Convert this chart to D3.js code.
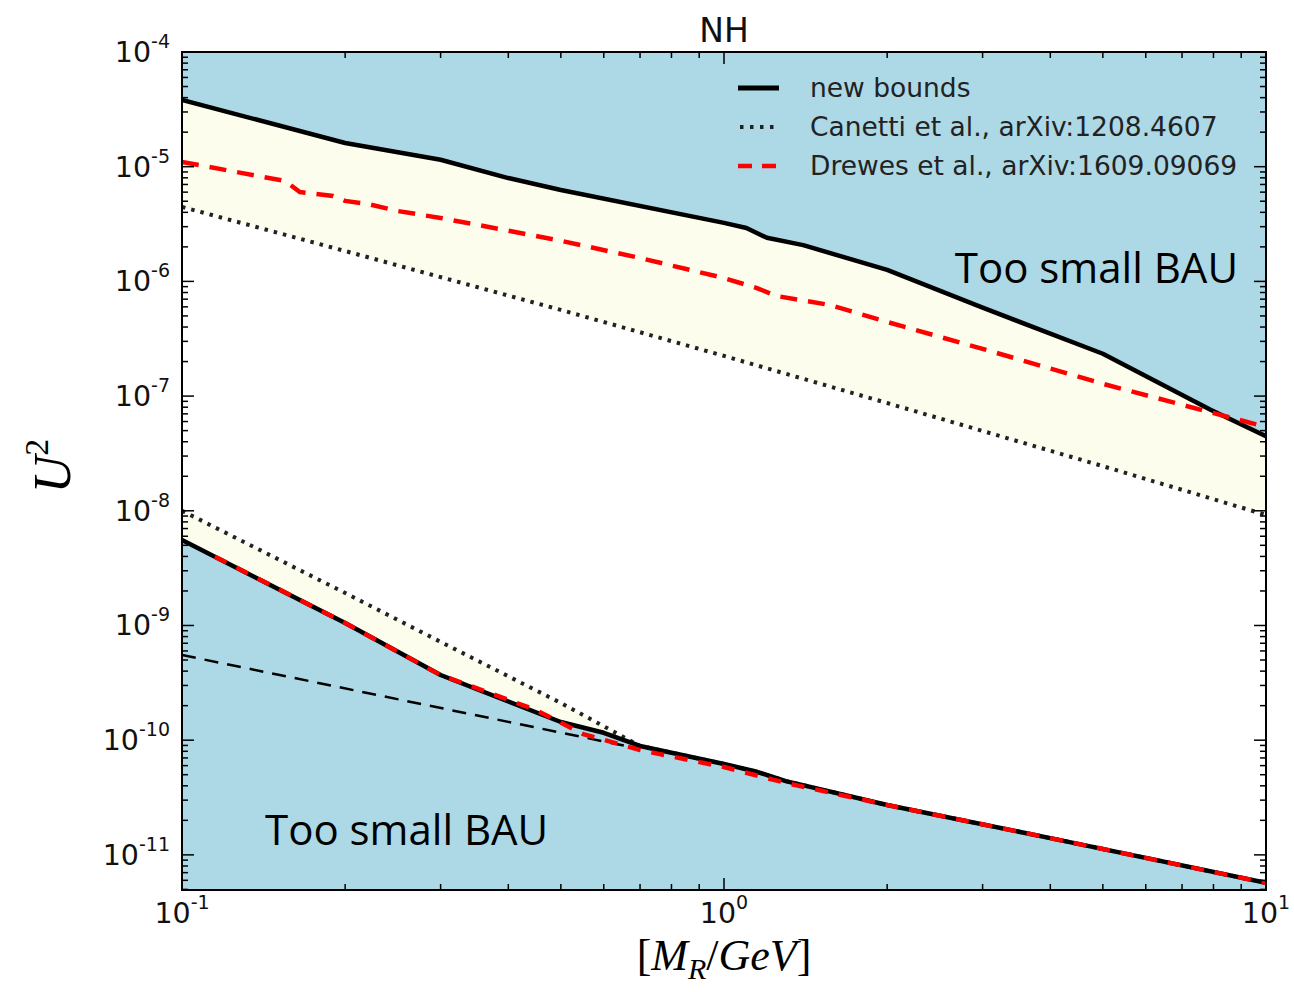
<!DOCTYPE html>
<html><head><meta charset="utf-8">
<script src="https://cdn.jsdelivr.net/npm/d3@7"></script>
<style>
html,body{margin:0;padding:0;background:#fff;}
svg{display:block;}
</style>
</head><body>
<svg id="chart" width="1294" height="992"></svg>
<script>
// ---------- data ----------
const massUpperNew = [0.1, 0.2, 0.3, 0.4, 0.5, 1.0, 1.1, 1.2, 1.4, 2, 3, 5, 7.9, 10];
const u2UpperNew   = [3.82e-5, 1.61e-5, 1.15e-5, 7.96e-6, 6.27e-6, 3.24e-6, 2.92e-6, 2.4e-6, 2.07e-6, 1.26e-6, 5.9e-7, 2.34e-7, 7.6e-8, 4.46e-8];

const massLowerNew = [0.1, 0.2, 0.3, 0.5, 0.6, 0.7, 1.0, 1.15, 1.3, 2, 4, 10];
const u2LowerNew   = [5.56e-9, 1.05e-9, 3.7e-10, 1.44e-10, 1.16e-10, 8.9e-11, 6.2e-11, 5.3e-11, 4.4e-11, 2.72e-11, 1.4e-11, 5.7e-12];

const massUpperCanetti = [0.1, 0.2, 0.5, 1, 2, 5, 10];
const u2UpperCanetti   = [4.46e-6, 1.84e-6, 5.64e-7, 2.24e-7, 8.7e-8, 2.45e-8, 9.2e-9];

const massLowerCanetti = [0.1, 0.2, 0.3, 0.5, 0.7, 1.0, 1.15, 1.3, 2, 4, 10];
const u2LowerCanetti   = [1.0e-8, 1.92e-9, 7.2e-10, 2.11e-10, 8.9e-11, 6.2e-11, 5.3e-11, 4.4e-11, 2.72e-11, 1.4e-11, 5.7e-12];

const massUpperDrewes = [0.1, 0.155, 0.165, 0.19, 0.2, 0.22, 0.25, 0.3, 0.4, 0.5, 0.7, 1.0, 1.15, 1.25, 1.57, 2, 3, 5, 10];
const u2UpperDrewes   = [1.10e-5, 7.5e-6, 6.01e-6, 5.55e-6, 5.03e-6, 4.73e-6, 4.11e-6, 3.57e-6, 2.77e-6, 2.26e-6, 1.6e-6, 1.07e-6, 8.75e-7, 7.46e-7, 6.22e-7, 4.43e-7, 2.58e-7, 1.28e-7, 5.38e-8];

const massLowerDrewes = [0.115, 0.2, 0.3, 0.45, 0.55, 0.7, 1.0, 1.3, 2, 4, 10];
const u2LowerDrewes   = [3.98e-9, 1.05e-9, 3.7e-10, 1.83e-10, 1.13e-10, 8.2e-11, 5.83e-11, 4.24e-11, 2.72e-11, 1.4e-11, 5.7e-12];

const massThinDashed = [0.1, 0.7];
const u2ThinDashed   = [5.53e-10, 8.4e-11];

const xTickValues = [0.1, 1, 10];
const xTickExps   = ["-1", "0", "1"];
const yTickValues = [1e-4, 1e-5, 1e-6, 1e-7, 1e-8, 1e-9, 1e-10, 1e-11];
const yTickExps   = ["-4", "-5", "-6", "-7", "-8", "-9", "-10", "-11"];

const legendLabels = ["new bounds", "Canetti et al., arXiv:1208.4607", "Drewes et al., arXiv:1609.09069"];
const titleText = "NH";
const regionText = "Too small BAU";

// ---------- layout ----------
const L = 182, R = 1266, T = 52, B = 890;
const svg = d3.select("#chart");
const x = d3.scaleLog().domain([0.1, 10]).range([L, R]);
const y = d3.scaleLog().domain([4.94e-12, 1e-4]).range([B, T]);
const [yMin, yMax] = y.domain();

const pts = (ms, us) => ms.map((m, i) => [m, us[i]]);
const line = d3.line().x(d => x(d[0])).y(d => y(d[1]));

const BLUE = "#add8e6", YELLOW = "#fdfdee";

const upperNew = pts(massUpperNew, u2UpperNew);
const lowerNew = pts(massLowerNew, u2LowerNew);
const upperCan = pts(massUpperCanetti, u2UpperCanetti);
const lowerCan = pts(massLowerCanetti, u2LowerCanetti);

const gPlot = svg.append("g");
gPlot.append("clipPath").attr("id", "clip").append("rect")
  .attr("x", L).attr("y", T).attr("width", R - L).attr("height", B - T);
const g = gPlot.append("g").attr("clip-path", "url(#clip)");

// fills
g.append("path").attr("d", line(upperNew.concat([[10, yMax], [0.1, yMax]])) + "Z").attr("fill", BLUE);
g.append("path").attr("d", line(upperNew.concat(upperCan.slice().reverse())) + "Z").attr("fill", YELLOW);
g.append("path").attr("d", line(lowerCan.concat(lowerNew.slice().reverse())) + "Z").attr("fill", YELLOW);
g.append("path").attr("d", line(lowerNew.concat([[10, yMin], [0.1, yMin]])) + "Z").attr("fill", BLUE);

// thin dashed
g.append("path").attr("d", line(pts(massThinDashed, u2ThinDashed)))
  .attr("fill", "none").attr("stroke", "#000").attr("stroke-width", 2.5).attr("stroke-dasharray", "14,9");

// Canetti dotted
[upperCan, lowerCan].forEach(p => g.append("path").attr("d", line(p))
  .attr("fill", "none").attr("stroke", "#222").attr("stroke-width", 4).attr("stroke-dasharray", "3.5,6"));

// new bounds solid
[upperNew, lowerNew].forEach(p => g.append("path").attr("d", line(p))
  .attr("fill", "none").attr("stroke", "#000").attr("stroke-width", 4.5).attr("stroke-linejoin", "round"));

// Drewes red dashed
g.append("path").attr("d", line(pts(massUpperDrewes, u2UpperDrewes)))
  .attr("fill", "none").attr("stroke", "#ff0000").attr("stroke-width", 4.5).attr("stroke-dasharray", "17,11");
g.append("path").attr("d", line(pts(massLowerDrewes, u2LowerDrewes)))
  .attr("fill", "none").attr("stroke", "#ff0000").attr("stroke-width", 4.5).attr("stroke-dasharray", "13,11");

// ---------- ticks ----------
const ticks = svg.append("g").attr("stroke", "#000").attr("stroke-width", 1.5);
const xMinor = [];
for (let d = 0.1; d < 10; d *= 10) for (let k = 2; k <= 9; k++) xMinor.push(+(d * k).toPrecision(3));
const yMinor = [];
for (let e = -12; e < -4; e++) for (let k = 2; k <= 9; k++) { const v = k * Math.pow(10, e); if (v > yMin && v < yMax) yMinor.push(v); }
xTickValues.forEach(v => {
  ticks.append("line").attr("x1", x(v)).attr("x2", x(v)).attr("y1", B).attr("y2", B - 12);
  ticks.append("line").attr("x1", x(v)).attr("x2", x(v)).attr("y1", T).attr("y2", T + 12);
});
xMinor.forEach(v => {
  ticks.append("line").attr("x1", x(v)).attr("x2", x(v)).attr("y1", B).attr("y2", B - 6);
  ticks.append("line").attr("x1", x(v)).attr("x2", x(v)).attr("y1", T).attr("y2", T + 6);
});
yTickValues.forEach(v => {
  ticks.append("line").attr("x1", L).attr("x2", L + 12).attr("y1", y(v)).attr("y2", y(v));
  ticks.append("line").attr("x1", R).attr("x2", R - 12).attr("y1", y(v)).attr("y2", y(v));
});
yMinor.forEach(v => {
  ticks.append("line").attr("x1", L).attr("x2", L + 6).attr("y1", y(v)).attr("y2", y(v));
  ticks.append("line").attr("x1", R).attr("x2", R - 6).attr("y1", y(v)).attr("y2", y(v));
});

// frame
svg.append("rect").attr("x", L).attr("y", T).attr("width", R - L).attr("height", B - T)
  .attr("fill", "none").attr("stroke", "#000").attr("stroke-width", 2);

// tick labels
const font = "DejaVu Sans, sans-serif";
yTickValues.forEach((v, i) => {
  const t = svg.append("text").attr("x", 170).attr("y", y(v) + 10)
    .attr("text-anchor", "end").attr("font-family", font).attr("font-size", 28.5).attr("fill", "#111");
  t.append("tspan").text("10");
  t.append("tspan").attr("font-size", 19).attr("dy", -14).text(yTickExps[i]);
});
xTickValues.forEach((v, i) => {
  const t = svg.append("text").attr("x", x(v)).attr("y", 923)
    .attr("text-anchor", "middle").attr("font-family", font).attr("font-size", 28.5).attr("fill", "#111");
  t.append("tspan").text("10");
  t.append("tspan").attr("font-size", 19).attr("dy", -14).text(xTickExps[i]);
});

// title
svg.append("text").attr("x", (L + R) / 2).attr("y", 42).attr("text-anchor", "middle")
  .attr("font-family", font).attr("font-size", 33).attr("fill", "#111").text(titleText);

// axis labels
const serif = "Liberation Serif, DejaVu Serif, serif";
const yl = svg.append("text").attr("transform", "translate(70,466) rotate(-90)")
  .attr("text-anchor", "middle").attr("font-family", serif).attr("font-size", 52).attr("fill", "#000");
yl.append("tspan").attr("font-style", "italic").text("U");
yl.append("tspan").attr("font-size", 34).attr("dy", -22).text("2");

const xl = svg.append("text").attr("x", (L + R) / 2).attr("y", 970)
  .attr("text-anchor", "middle").attr("font-family", serif).attr("font-size", 44).attr("fill", "#000");
xl.append("tspan").text("[");
xl.append("tspan").attr("font-style", "italic").text("M");
xl.append("tspan").attr("font-style", "italic").attr("font-size", 30).attr("dy", 9).text("R");
xl.append("tspan").attr("dy", -9).text("/");
xl.append("tspan").attr("font-style", "italic").text("GeV");
xl.append("tspan").text("]");

// region annotations
svg.append("text").attr("x", 1238).attr("y", 283).attr("text-anchor", "end")
  .attr("font-family", "Open Sans, Noto Sans, sans-serif").attr("font-size", 42).attr("fill", "#000").text(regionText);
svg.append("text").attr("x", 265).attr("y", 845).attr("text-anchor", "start")
  .attr("font-family", "Open Sans, Noto Sans, sans-serif").attr("font-size", 42).attr("fill", "#000").text(regionText);

// legend
const legY = [88, 127, 166];
const lg = svg.append("g");
lg.append("line").attr("x1", 738).attr("x2", 779).attr("y1", legY[0]).attr("y2", legY[0])
  .attr("stroke", "#000").attr("stroke-width", 5);
lg.append("line").attr("x1", 740).attr("x2", 776).attr("y1", legY[1]).attr("y2", legY[1])
  .attr("stroke", "#222").attr("stroke-width", 4).attr("stroke-dasharray", "3.5,6.5");
lg.append("line").attr("x1", 738).attr("x2", 776).attr("y1", legY[2]).attr("y2", legY[2])
  .attr("stroke", "#ff0000").attr("stroke-width", 4.5).attr("stroke-dasharray", "14,10");
legendLabels.forEach((s, i) => {
  lg.append("text").attr("x", 810).attr("y", legY[i] + 9).attr("font-family", font)
    .attr("font-size", 26.5).attr("fill", "#222").text(s);
});
</script>
</body></html>
